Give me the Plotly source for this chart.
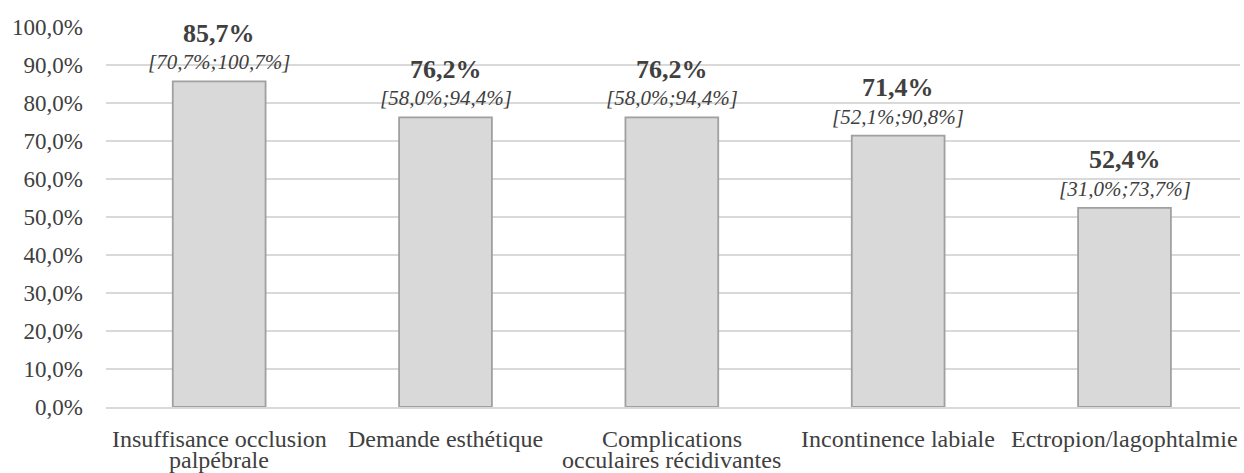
import plotly.graph_objects as go

categories = ["Insuffisance occlusion<br>palpébrale", "Demande esthétique",
              "Complications<br>occulaires récidivantes", "Incontinence labiale",
              "Ectropion/lagophtalmie"]
values = [85.7, 76.2, 76.2, 71.4, 52.4]
ci_low = [70.7, 58.0, 58.0, 52.1, 31.0]
ci_high = [100.7, 94.4, 94.4, 90.8, 73.7]
tick_vals = [0, 10, 20, 30, 40, 50, 60, 70, 80, 90, 100]
tick_text = ["0,0%", "10,0%", "20,0%", "30,0%", "40,0%", "50,0%", "60,0%",
             "70,0%", "80,0%", "90,0%", "100,0%"]

def fr(v):
    return f"{v:.1f}".replace(".", ",") + "%"

FONT = "Liberation Serif"
TXT = "#404040"

fig = go.Figure()
fig.add_trace(go.Bar(x=categories, y=values,
                     marker=dict(color="#d9d9d9", line=dict(color="#a0a0a0", width=1.8)),
                     width=0.41, hoverinfo="skip"))

for c, v, lo, hi in zip(categories, values, ci_low, ci_high):
    fig.add_annotation(x=c, y=v, yref="y", xref="x", text=f"<i>[{fr(lo)};{fr(hi)}]</i>",
                       showarrow=False, yanchor="middle", yshift=19,
                       font=dict(family=FONT, size=21, color=TXT))
    fig.add_annotation(x=c, y=v, yref="y", xref="x", text=f"<b>{fr(v)}</b>",
                       showarrow=False, yanchor="middle", yshift=48,
                       font=dict(family=FONT, size=26, color=TXT))
    # category labels, one annotation per line for tight line spacing
    for i, line in enumerate(c.split("<br>")):
        fig.add_annotation(x=c, y=0, xref="x", yref="paper", text=line,
                           showarrow=False, yanchor="middle", yshift=-32 - 21 * i,
                           font=dict(family=FONT, size=24, color=TXT))

fig.update_layout(
    width=1244, height=473,
    margin=dict(l=106, r=4, t=27, b=66),
    paper_bgcolor="white", plot_bgcolor="white",
    showlegend=False,
    font=dict(family=FONT, size=23, color=TXT),
    xaxis=dict(showline=True, linecolor="#d9d9d9", linewidth=1.5, ticks="",
               showticklabels=False),
    yaxis=dict(range=[0, 100], tickvals=tick_vals, ticktext=tick_text,
               showgrid=True, gridcolor="#d9d9d9", gridwidth=1.5, zeroline=False,
               tickfont=dict(family=FONT, size=23, color=TXT), ticklabelstandoff=22),
)

fig.write_html("out.html")
